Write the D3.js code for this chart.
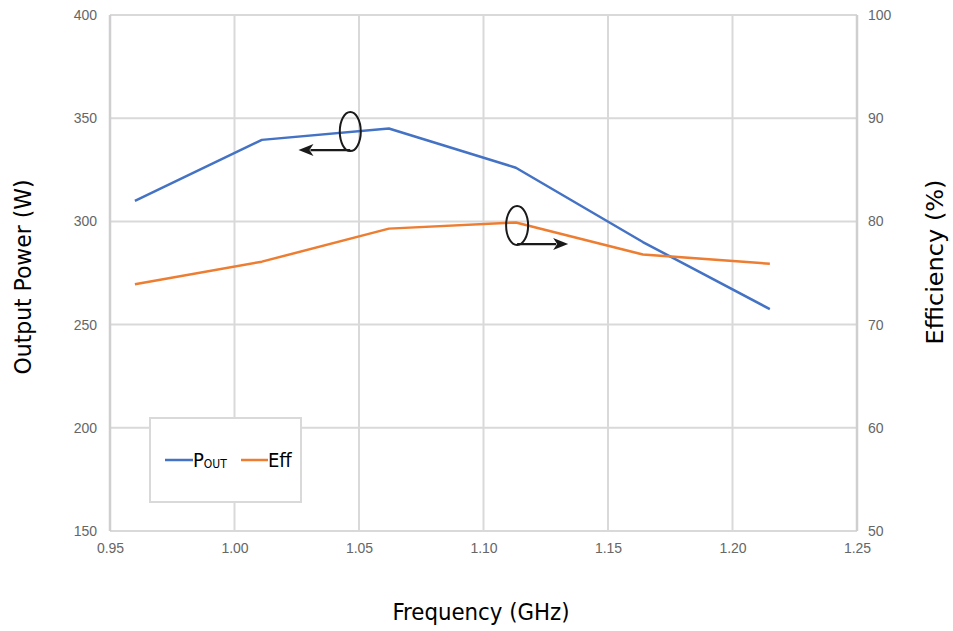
<!DOCTYPE html>
<html>
<head>
<meta charset="utf-8">
<script src="https://cdn.jsdelivr.net/npm/d3@7"></script>
<style>
html,body{margin:0;padding:0;background:#fff;}
svg{display:block;}
</style>
</head>
<body>
<svg id="chart" width="953" height="631"></svg>
<script>
// ---- data ----
const freq = [0.96, 1.011, 1.062, 1.113, 1.164, 1.215];
const pout = [310, 339.5, 345, 326, 290, 257.5];
const eff  = [73.9, 76.1, 79.3, 79.9, 76.8, 75.9];
const xTicks = [0.95, 1.00, 1.05, 1.10, 1.15, 1.20, 1.25];
const yLeftTicks = [150, 200, 250, 300, 350, 400];
const yRightTicks = [50, 60, 70, 80, 90, 100];
const seriesNames = ["P", "Eff"];

const svg = d3.select("#chart");
const L = 110, R = 857, T = 15, B = 531;

const x = d3.scaleLinear().domain([0.95, 1.25]).range([L, R]);
const yL = d3.scaleLinear().domain([150, 400]).range([B, T]);
const yR = d3.scaleLinear().domain([50, 100]).range([B, T]);

const grid = "#d9d9d9";
svg.append("g").selectAll("line").data(yLeftTicks).join("line")
  .attr("x1", L).attr("x2", R)
  .attr("y1", d => yL(d)).attr("y2", d => yL(d))
  .attr("stroke", grid).attr("stroke-width", 2);
svg.append("g").selectAll("line").data(xTicks).join("line")
  .attr("x1", d => x(d)).attr("x2", d => x(d))
  .attr("y1", T).attr("y2", B)
  .attr("stroke", (d,i) => (i === 0 || i === xTicks.length-1) ? "#cfcfcf" : grid)
  .attr("stroke-width", (d,i) => (i === 0 || i === xTicks.length-1) ? 2.5 : 2);

const tickColor = "#666";
const tickFont = "'Liberation Sans', Arial, sans-serif";

const axL = d3.axisLeft(yL).tickValues(yLeftTicks).tickSize(0).tickPadding(13).tickFormat(d3.format("d"));
const gL = svg.append("g").attr("transform", `translate(${L},0)`).call(axL);
const axR = d3.axisRight(yR).tickValues(yRightTicks).tickSize(0).tickPadding(11).tickFormat(d3.format("d"));
const gR = svg.append("g").attr("transform", `translate(${R},0)`).call(axR);
const axB = d3.axisBottom(x).tickValues(xTicks).tickSize(0).tickPadding(12).tickFormat(d3.format(".2f"));
const gB = svg.append("g").attr("transform", `translate(0,${B})`).call(axB);

[gL, gR, gB].forEach(g => {
  g.select(".domain").remove();
  g.selectAll("text").attr("fill", tickColor).style("font-family", tickFont).style("font-size", "14px");
});

const lineP = d3.line().x((d,i) => x(freq[i])).y(d => yL(d));
const lineE = d3.line().x((d,i) => x(freq[i])).y(d => yR(d));
svg.append("path").datum(pout).attr("d", lineP).attr("fill", "none")
  .attr("stroke", "#4472c4").attr("stroke-width", 2.5).attr("stroke-linejoin", "round");
svg.append("path").datum(eff).attr("d", lineE).attr("fill", "none")
  .attr("stroke", "#ed7d31").attr("stroke-width", 2.5).attr("stroke-linejoin", "round");

// annotations: ellipse + arrow pointing to the series' axis
const ink = "#1a1a1a";
function annot(cx, cy, rx, ry, tipX, dir) {
  svg.append("ellipse").attr("cx", cx).attr("cy", cy).attr("rx", rx).attr("ry", ry)
    .attr("fill", "none").attr("stroke", ink).attr("stroke-width", 2);
  const ay = cy + ry - 1;
  const headLen = 15, headHalf = 6;
  svg.append("line").attr("x1", cx).attr("y1", ay).attr("x2", tipX - dir * (headLen - 3)).attr("y2", ay)
    .attr("stroke", ink).attr("stroke-width", 2.2);
  svg.append("path")
    .attr("d", `M${tipX},${ay} L${tipX - dir*headLen},${ay - headHalf} L${tipX - dir*(headLen-4)},${ay} L${tipX - dir*headLen},${ay + headHalf} Z`)
    .attr("fill", ink);
}
annot(x(1.0465), yL(343.5), 10.5, 19.5, x(1.0257), -1);
annot(x(1.1135), yR(79.6), 11, 19.5, x(1.134), 1);

// legend
const lg = svg.append("g");
lg.append("rect").attr("x", 150).attr("y", 418).attr("width", 151).attr("height", 84)
  .attr("fill", "#fff").attr("stroke", "#d9d9d9").attr("stroke-width", 2);
const legFont = "'DejaVu Sans Condensed', 'DejaVu Sans', sans-serif";
lg.append("line").attr("x1", 165).attr("x2", 193).attr("y1", 460).attr("y2", 460)
  .attr("stroke", "#4472c4").attr("stroke-width", 2.5);
const t1 = lg.append("text").attr("x", 193).attr("y", 467).attr("fill", "#000")
  .style("font-family", legFont).style("font-size", "20px");
t1.append("tspan").text(seriesNames[0]);
t1.append("tspan").text("OUT").style("font-size", "12px").attr("dy", 1);
lg.append("line").attr("x1", 241).attr("x2", 268).attr("y1", 460).attr("y2", 460)
  .attr("stroke", "#ed7d31").attr("stroke-width", 2.5);
lg.append("text").attr("x", 268).attr("y", 467).attr("fill", "#000")
  .style("font-family", legFont).style("font-size", "20px")
  .text(seriesNames[1]);

// axis titles
const titleFont = "'DejaVu Sans Condensed', 'DejaVu Sans', sans-serif";
svg.append("text").attr("x", 481).attr("y", 620).attr("text-anchor", "middle")
  .style("font-family", titleFont).style("font-size", "23px")
  .attr("textLength", 177).attr("lengthAdjust", "spacingAndGlyphs")
  .attr("fill", "#000").text("Frequency (GHz)");
svg.append("text").attr("transform", "translate(31,277) rotate(-90)").attr("text-anchor", "middle")
  .style("font-family", titleFont).style("font-size", "23px")
  .attr("textLength", 195).attr("lengthAdjust", "spacingAndGlyphs")
  .attr("fill", "#000").text("Output Power (W)");
svg.append("text").attr("transform", "translate(943,262) rotate(-90)").attr("text-anchor", "middle")
  .style("font-family", titleFont).style("font-size", "23px")
  .attr("textLength", 165).attr("lengthAdjust", "spacingAndGlyphs")
  .attr("fill", "#000").text("Efficiency (%)");
</script>
</body>
</html>
